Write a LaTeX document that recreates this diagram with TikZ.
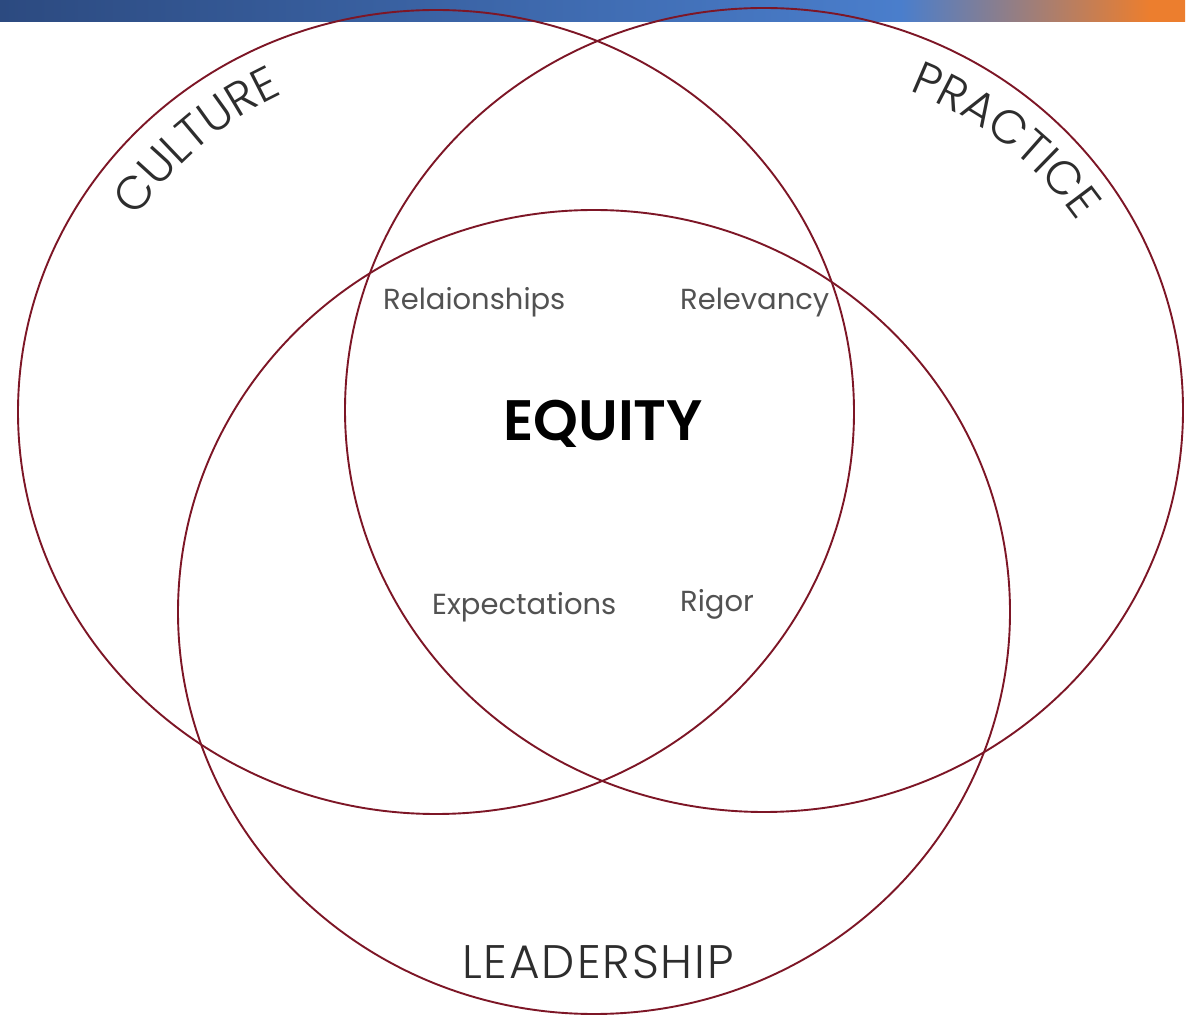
\documentclass[tikz,border=0pt]{standalone}
\usepackage{fontspec}
\usetikzlibrary{decorations.text,calc}
\setmainfont{Poppins}
\IfFontExistsTF{Poppins Light}{\newfontfamily\thinfont{Poppins Light}[LetterSpace=4]}{\newfontfamily\thinfont{Poppins}[LetterSpace=4]}
\IfFontExistsTF{Poppins SemiBold}{\newfontfamily\heavyfont{Poppins SemiBold}}{\newcommand\heavyfont{\bfseries}}

\definecolor{ring}{RGB}{125,22,38}
\definecolor{labgray}{RGB}{82,82,82}
\definecolor{ringtext}{RGB}{45,45,45}
\definecolor{bandA}{RGB}{44,74,128}
\definecolor{bandB}{RGB}{74,126,204}
\definecolor{bandC}{RGB}{236,126,46}
\pgfdeclarehorizontalshading{bandshade}{100bp}{color(0bp)=(bandA); color(25bp)=(bandA); color(63bp)=(bandB); color(73.5bp)=(bandC); color(100bp)=(bandC)}

\newcommand\ringfont{\thinfont\fontsize{47}{54}\selectfont}

\begin{document}
\begin{tikzpicture}[x=1pt,y=1pt,
  ringline/.style={draw=ring, line width=1.9pt},
  lab/.style={font=\fontsize{29}{35}\selectfont, text=labgray, inner sep=0pt},
  title/.style={font=\heavyfont\fontsize{57}{66}\selectfont, text=black, inner sep=0pt},
  ringlab/.style={font=\ringfont, text=ringtext, inner sep=0pt}]
  \useasboundingbox (0,0) rectangle (1201,1015);
  \fill[white] (0,0) rectangle (1201,1015);

  % header band
  \shade[shading=bandshade] (0,993) rectangle (1185,1015);

  % centres of the three sets
  \coordinate (cL) at (436,603);
  \coordinate (cR) at (764,605);
  \coordinate (cB) at (594,403);

  \draw[ringline] (cL) ellipse[x radius=418, y radius=402];
  \draw[ringline] (cR) ellipse[x radius=419, y radius=402];
  \draw[ringline] (cB) ellipse[x radius=416, y radius=402];

  % curved set names
  \path[decorate, decoration={text along path, text align=center,
        text color=ringtext, text={|\ringfont|CULTURE}}]
    ($(cL)+(152:358 and 352)$) arc[start angle=152, end angle=110, x radius=358, y radius=352];
  \path[decorate, decoration={text along path, text align=center,
        text color=ringtext, text={|\ringfont|PRACTICE}}]
    ($(cR)+(71:374 and 346)$) arc[start angle=71, end angle=29, x radius=374, y radius=346];
  \node[ringlab, anchor=base] (lead) at (598,37) {LEADERSHIP};

  % overlap labels
  \node[lab, anchor=base west] (rel) at (383,705) {Relaionships};
  \node[lab, anchor=base west] (relv) at (680,705) {Relevancy};
  \node[lab, anchor=base west] (exp) at (432,400) {Expectations};
  \node[lab, anchor=base west] (rig) at (680,403) {Rigor};
  \node[title, anchor=base west] (eq) at (503,574) {EQUITY};
\end{tikzpicture}
\end{document}
